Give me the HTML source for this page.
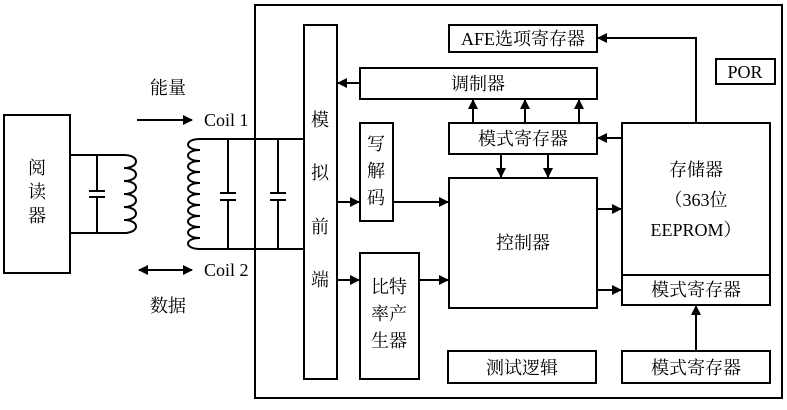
<!DOCTYPE html>
<html><head><meta charset="utf-8"><style>
body{margin:0;background:#fff}
svg text{font-family:"Liberation Serif","Noto Serif CJK SC",serif;fill:#000}
</style></head><body>
<svg width="787" height="405" viewBox="0 0 787 405" xmlns="http://www.w3.org/2000/svg">
<defs>
<marker id="a" markerWidth="10" markerHeight="10" refX="9" refY="5" orient="auto" markerUnits="userSpaceOnUse"><path d="M0,0L10,5L0,10Z" fill="#000"/></marker>
<marker id="b" markerWidth="10" markerHeight="10" refX="1" refY="5" orient="auto" markerUnits="userSpaceOnUse"><path d="M10,0L0,5L10,10Z" fill="#000"/></marker>
</defs>
<g fill="none" stroke="#000" stroke-width="2">
<rect x="255" y="5" width="527" height="393"/>
<rect x="4" y="115" width="66" height="158"/>
<rect x="304" y="25" width="33" height="354"/>
<rect x="449" y="25" width="148" height="27"/>
<rect x="716" y="59" width="59" height="25"/>
<rect x="360" y="68" width="237" height="31"/>
<rect x="449" y="123" width="148" height="31"/>
<rect x="360" y="123" width="33" height="98"/>
<rect x="449" y="178" width="148" height="130"/>
<rect x="622" y="123" width="148" height="152"/>
<rect x="622" y="275" width="148" height="30"/>
<rect x="360" y="253" width="59" height="126"/>
<rect x="448" y="351" width="148" height="32"/>
<rect x="622" y="351" width="148" height="32"/>
<path d="M70 155H124M70 233H124M97 155V191M97 197V233M89 191H105M89 197H105"/>
<path d="M124 155c16 0 16 13 0 13c16 0 16 13 0 13c16 0 16 13 0 13c16 0 16 13 0 13c16 0 16 13 0 13c16 0 16 13 0 13"/>
<path d="M200 139H304M200 249H304M228 139V193M228 200V249M220 193H236M220 200H236M278 139V193M278 200V249M270 193H286M270 200H286"/>
<path d="M200 139c-16 0-16 11 0 11c-16 0-16 11 0 11c-16 0-16 11 0 11c-16 0-16 11 0 11c-16 0-16 11 0 11c-16 0-16 11 0 11c-16 0-16 11 0 11c-16 0-16 11 0 11c-16 0-16 11 0 11c-16 0-16 11 0 11"/>
<path d="M137 120H192" marker-end="url(#a)"/>
<path d="M139 270H192" marker-end="url(#a)" marker-start="url(#b)"/>
<path d="M360 83H338" marker-end="url(#a)"/>
<path d="M473 123V100" marker-end="url(#a)"/>
<path d="M525 123V100" marker-end="url(#a)"/>
<path d="M579 123V100" marker-end="url(#a)"/>
<path d="M501 154V177" marker-end="url(#a)"/>
<path d="M548 154V177" marker-end="url(#a)"/>
<path d="M622 138H598" marker-end="url(#a)"/>
<path d="M696 123V38H598" marker-end="url(#a)"/>
<path d="M337 202H359" marker-end="url(#a)"/>
<path d="M393 202H448" marker-end="url(#a)"/>
<path d="M337 280H359" marker-end="url(#a)"/>
<path d="M419 280H448" marker-end="url(#a)"/>
<path d="M597 209H621" marker-end="url(#a)"/>
<path d="M597 290H621" marker-end="url(#a)"/>
<path d="M696 351V306" marker-end="url(#a)"/>
</g>
<g font-size="18">
<text x="37" y="174" text-anchor="middle">阅</text>
<text x="37" y="198" text-anchor="middle">读</text>
<text x="37" y="222" text-anchor="middle">器</text>
<text x="150" y="94">能量</text>
<text x="150" y="312">数据</text>
<text x="204" y="126">Coil 1</text>
<text x="204" y="276">Coil 2</text>
<text x="320" y="126" text-anchor="middle">模</text>
<text x="320" y="179" text-anchor="middle">拟</text>
<text x="320" y="233" text-anchor="middle">前</text>
<text x="320" y="286" text-anchor="middle">端</text>
<text x="523" y="45" text-anchor="middle">AFE选项寄存器</text>
<text x="745" y="78" text-anchor="middle">POR</text>
<text x="478" y="90" text-anchor="middle">调制器</text>
<text x="523" y="145" text-anchor="middle">模式寄存器</text>
<text x="376" y="150" text-anchor="middle">写</text>
<text x="376" y="177" text-anchor="middle">解</text>
<text x="376" y="204" text-anchor="middle">码</text>
<text x="523" y="249" text-anchor="middle">控制器</text>
<text x="696" y="176" text-anchor="middle">存储器</text>
<text x="696" y="206" text-anchor="middle">（363位</text>
<text x="696" y="236" text-anchor="middle">EEPROM）</text>
<text x="696" y="296" text-anchor="middle">模式寄存器</text>
<text x="389" y="293" text-anchor="middle">比特</text>
<text x="389" y="320" text-anchor="middle">率产</text>
<text x="389" y="347" text-anchor="middle">生器</text>
<text x="522" y="374" text-anchor="middle">测试逻辑</text>
<text x="696" y="374" text-anchor="middle">模式寄存器</text>
</g>
</svg>
</body></html>
